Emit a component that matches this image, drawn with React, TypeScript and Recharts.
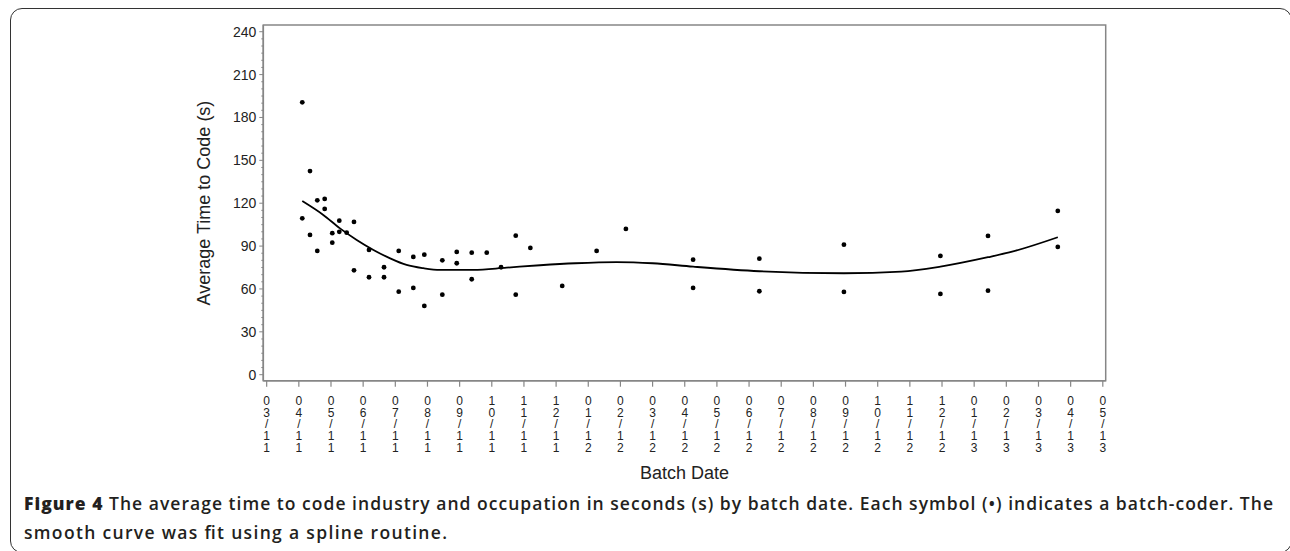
import React from "react";
import { ComposedChart, Line, Scatter, XAxis, YAxis, ReferenceArea } from "recharts";

// month index 0 = 03/11
const monthTicks = [
  "03/11", "04/11", "05/11", "06/11", "07/11", "08/11", "09/11", "10/11", "11/11", "12/11",
  "01/12", "02/12", "03/12", "04/12", "05/12", "06/12", "07/12", "08/12", "09/12", "10/12",
  "11/12", "12/12", "01/13", "02/13", "03/13", "04/13", "05/13",
];
const yMinor = Array.from({ length: 49 }, (_, i) => i * 5);

// batch-coder averages (x in months from 03/11)
const coderX = [
  1.107, 1.107, 1.347, 1.347, 1.574, 1.574, 1.804, 1.804, 2.04, 2.04,
  2.258, 2.258, 2.488, 2.715, 2.715, 3.182, 3.182, 3.649, 3.649, 4.106,
  4.106, 4.56, 4.56, 4.902, 4.902, 5.462, 5.462, 5.91, 5.91, 6.376,
  6.376, 6.843, 7.288, 7.745, 7.745, 8.199, 9.19, 10.26, 11.17, 13.26,
  13.26, 15.32, 15.32, 17.95, 17.95, 20.95, 20.95, 22.43, 22.43, 24.6, 24.6,
];
const coderTime = [
  190.6, 109.4, 142.5, 97.8, 122, 86.6, 123, 116, 99, 92.4,
  107.8, 100, 99.4, 106.9, 73, 87.3, 68.2, 75.2, 68.2, 86.6,
  58.1, 82.4, 60.7, 84, 48.1, 80, 56, 85.9, 78, 85.4,
  66.8, 85.4, 75.2, 97.3, 56, 88.7, 62.1, 86.6, 102, 80.5,
  60.7, 81.2, 58.4, 91, 57.9, 83.1, 56.5, 97.1, 58.8, 114.6, 89.4,
];

// spline fit
const splineX = [1.107, 1.76, 2.28, 2.8, 3.32, 3.84, 4.35, 4.87, 5.39, 6.43, 7.46, 8.5, 9.6, 10.88, 12.0, 13.26, 15.32, 17.95, 19.73, 20.95, 22.43, 23.18, 24.6];
const splineTime = [121.5, 111.8, 102.4, 94.3, 87.3, 81.4, 76.8, 74.5, 73.3, 73.3, 74.9, 76.6, 78.0, 78.8, 78.0, 75.6, 72.4, 71, 72.1, 75.6, 82.2, 86.1, 96.2];

const points = coderX.map((x, i) => ({ x, y: coderTime[i] }));
const spline = splineX.map((x, i) => ({ x, y: splineTime[i] }));

const X_DOM: [number, number] = [-0.105, 26.09];
const Y_DOM: [number, number] = [-4.2, 244.7];
const FRAME = "#868686";
const INK = "#222";
const FONT = '"Liberation Sans", Arial, sans-serif';

function YTick(props: any) {
  const { x, y, payload } = props;
  const v = payload.value;
  const major = v % 30 === 0;
  return (
    <g>
      <line x1={x} x2={x - (major ? 4 : 2)} y1={y} y2={y} stroke={FRAME} strokeWidth={1} />
      {major && (
        <text x={x - 7} y={y} textAnchor="end" dominantBaseline="central" fontSize={14} fill={INK} fontFamily={FONT}>
          {v}
        </text>
      )}
    </g>
  );
}

function XTick(props: any) {
  const { x, y, payload } = props;
  const label = monthTicks[payload.value] || "";
  return (
    <g>
      <line x1={x} x2={x} y1={y} y2={y + 6} stroke={FRAME} strokeWidth={1.2} />
      <text textAnchor="middle" fontSize={12} fill={INK} fontFamily={FONT}>
        {label.split("").map((c, i) => (
          <tspan key={i} x={x} y={y + 20.3 + i * 11.7} dominantBaseline="central">
            {c}
          </tspan>
        ))}
      </text>
    </g>
  );
}

function xLabel(props: any) {
  const vb = props.viewBox;
  return (
    <text x={vb.x + vb.width / 2} y={473} textAnchor="middle" dominantBaseline="central" fontSize={18} fill={INK} fontFamily={FONT}>
      Batch Date
    </text>
  );
}

function yLabel() {
  return (
    <text x={204} y={203} transform="rotate(-90, 204, 203)" textAnchor="middle" dominantBaseline="central" fontSize={18} fill={INK} fontFamily={FONT}>
      Average Time to Code (s)
    </text>
  );
}

const CAP_FONT = '"Open Sans", "Noto Sans", sans-serif';

export default function App() {
  return (
    <div style={{ position: "absolute", left: 0, top: 0, width: 1290, height: 551, overflow: "hidden", background: "#fff" }}>
      <div
        style={{
          position: "absolute",
          left: 10,
          top: 8,
          width: 1282,
          height: 545,
          border: "1.5px solid #333",
          borderRadius: 12,
          boxSizing: "border-box",
        }}
      />
      <div style={{ position: "absolute", left: 0, top: 0 }}>
        <ComposedChart width={1290} height={551} margin={{ top: 25, right: 184.3, left: 0, bottom: 70.3 }}>
          <XAxis
            type="number"
            dataKey="x"
            domain={X_DOM}
            allowDataOverflow
            ticks={monthTicks.map((_, i) => i)}
            interval={0}
            tick={<XTick />}
            tickLine={false}
            tickSize={0}
            tickMargin={0}
            height={100}
            axisLine={{ stroke: FRAME, strokeWidth: 1.5 }}
            label={xLabel}
          />
          <YAxis
            type="number"
            dataKey="y"
            domain={Y_DOM}
            allowDataOverflow
            ticks={yMinor}
            interval={0}
            tick={<YTick />}
            tickLine={false}
            tickSize={0}
            tickMargin={0}
            width={263.3}
            axisLine={{ stroke: FRAME, strokeWidth: 1.5 }}
            label={yLabel}
          />
          <ReferenceArea
            x1={X_DOM[0]}
            x2={X_DOM[1]}
            y1={Y_DOM[0]}
            y2={Y_DOM[1]}
            fill="none"
            fillOpacity={0}
            stroke={FRAME}
            strokeWidth={1.5}
          />
          <Line
            data={spline}
            dataKey="y"
            type="monotone"
            stroke="#000"
            strokeWidth={1.8}
            dot={false}
            activeDot={false}
            isAnimationActive={false}
          />
          <Scatter
            data={points}
            dataKey="y"
            fill="#000"
            shape={(p: any) => <circle cx={p.cx} cy={p.cy} r={2.4} fill="#000" />}
            isAnimationActive={false}
          />
        </ComposedChart>
      </div>
      <svg width={1290} height={551} style={{ position: "absolute", left: 0, top: 0, pointerEvents: "none" }}>
        <text x={24} y={503} dominantBaseline="central" fontFamily={CAP_FONT} fontSize={17.5} fontWeight={600} fill="#231f20" textLength={1249} lengthAdjust="spacing">
          <tspan fontWeight={800}>Figure 4</tspan> The average time to code industry and occupation in seconds (s) by batch date. Each symbol (•) indicates a batch-coder. The
        </text>
        <text x={24} y={531.5} dominantBaseline="central" fontFamily={CAP_FONT} fontSize={17.5} fontWeight={600} fill="#231f20" textLength={423} lengthAdjust="spacing">
          smooth curve was fit using a spline routine.
        </text>
      </svg>
    </div>
  );
}
